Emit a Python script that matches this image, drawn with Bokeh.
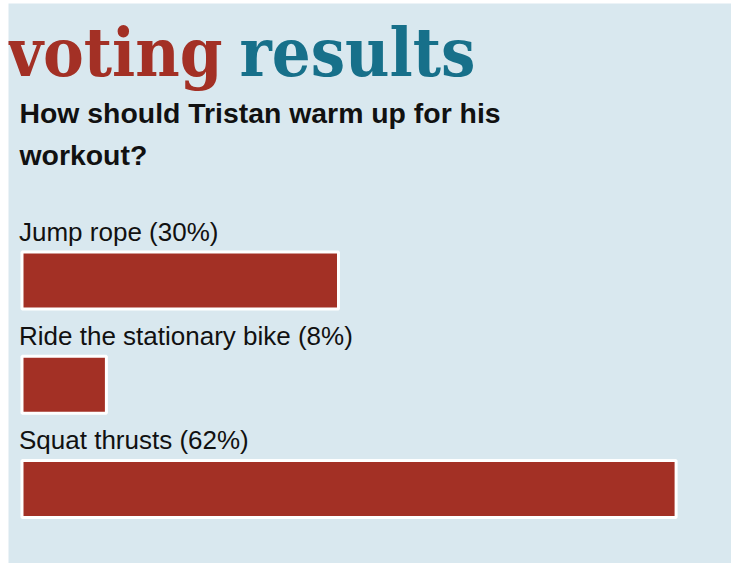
from bokeh.plotting import figure
from bokeh.models import Range1d, Label, ColumnDataSource
from bokeh.embed import file_html
from bokeh.resources import INLINE
from bokeh.core.properties import value

# ---- data ----
categories = ["Jump rope", "Ride the stationary bike", "Squat thrusts"]
percents = [30, 8, 62]
title_left = "voting"
title_right = "results"
question_lines = ["How should Tristan warm up for his", "workout?"]

# ---- styling ----
BG = "#d9e8ef"
RED = "#a33025"
TEAL = "#17708a"
W, H = 731, 563
LEFT, TOP = 8, 3
FW, FH = W - LEFT, H - TOP

PX_PER_PCT = 10.55
X0 = -(21.5 - LEFT) / PX_PER_PCT
X1 = X0 + FW / PX_PER_PCT
ROW_PX = 104.25
Y_TOP = -(280 - TOP) / ROW_PX
Y_BOT = Y_TOP + FH / ROW_PX


def xd(page_px):
    return X0 + (page_px - LEFT) / PX_PER_PCT


def yd(page_py):
    return Y_TOP + (page_py - TOP) / ROW_PX


p = figure(width=W, height=H, output_backend="svg", toolbar_location=None,
           x_range=Range1d(X0, X1), y_range=Range1d(Y_BOT, Y_TOP),
           min_border=0, min_border_left=LEFT, min_border_right=0,
           min_border_top=TOP, min_border_bottom=0)
p.axis.visible = False
p.grid.visible = False
p.outline_line_color = None
p.background_fill_color = BG
p.border_fill_color = "white"

rows = list(range(len(categories)))
src = ColumnDataSource(dict(
    y=rows,
    right=percents,
    label=[f"{c} ({v}%)" for c, v in zip(categories, percents)],
))

p.hbar(y="y", left=0, right="right", height=57 / ROW_PX, source=src,
       fill_color=RED, line_color="white", line_width=3)

p.text(x=0, y="y", text="label", source=src, x_offset=-3, y_offset=-49,
       text_font=value("Liberation Sans"), text_font_size="26px",
       text_color="#111111", text_baseline="alphabetic", text_align="left")

TS = 68
p.add_layout(Label(x=xd(7), y=yd(75 - 0.34 * TS), text=title_left,
                   text_font="DejaVu Serif Condensed", text_font_style="bold",
                   text_font_size=f"{TS}px", text_color=RED,
                   text_baseline="alphabetic"))
p.add_layout(Label(x=xd(239), y=yd(75 - 0.34 * TS), text=title_right,
                   text_font="DejaVu Serif Condensed", text_font_style="bold",
                   text_font_size=f"{TS}px", text_color=TEAL,
                   text_baseline="alphabetic"))

for i, line in enumerate(question_lines):
    p.add_layout(Label(x=xd(19), y=yd(121 + 42 * i - 9), text=line,
                       text_font="Liberation Sans", text_font_style="bold",
                       text_font_size="28.4px", text_color="#111111",
                       text_baseline="alphabetic"))

open("out.html", "w").write(file_html(p, INLINE))
